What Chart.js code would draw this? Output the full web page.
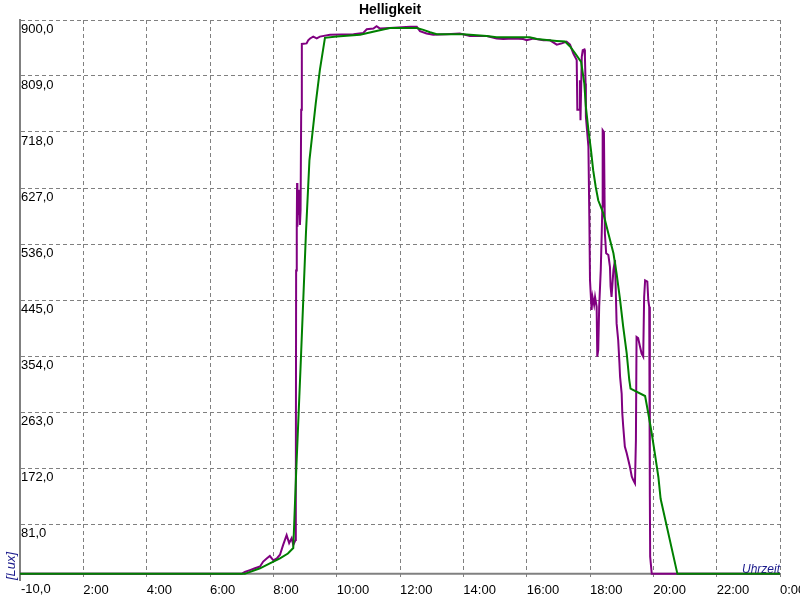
<!DOCTYPE html>
<html>
<head>
<meta charset="utf-8">
<script src="https://cdn.jsdelivr.net/npm/chart.js@4"></script>
<style>
  body { margin: 0; background: #fff; }
</style>
</head>
<body>
<canvas id="luxChart" width="800" height="600"></canvas>
<script>
// purple = measured lux, green = smoothed curve (x in hours)
const purpleHours = [0, 7.0, 7.1, 7.26, 7.42, 7.58, 7.68, 7.79, 7.89, 8.0, 8.11, 8.21, 8.31, 8.42, 8.5, 8.58, 8.63,
  8.7, 8.71, 8.72, 8.74, 8.75, 8.76, 8.78, 8.8, 8.82, 8.84, 8.86, 8.88, 8.9, 9.05, 9.1, 9.16, 9.26, 9.37, 9.47,
  9.79, 10.53, 10.84, 10.95, 11.16, 11.26, 11.37, 11.68, 12.32, 12.53, 12.63, 12.84, 13.05, 13.47, 13.89, 14.21,
  14.74, 15.05, 15.26, 15.58, 15.89, 16.0, 16.21, 16.53, 16.74, 16.95, 17.11, 17.26, 17.37, 17.47, 17.58, 17.6,
  17.66, 17.68, 17.7, 17.74, 17.77, 17.82, 17.84, 17.86, 17.87, 17.95, 17.98, 18.0, 18.05, 18.08, 18.13, 18.16,
  18.21, 18.23, 18.26, 18.29, 18.34, 18.37, 18.39, 18.4, 18.44, 18.47, 18.51, 18.58, 18.63, 18.65, 18.68, 18.71,
  18.74, 18.79, 18.82, 18.84, 18.89, 18.93, 18.95, 19.0, 19.02, 19.05, 19.1, 19.16, 19.21, 19.26, 19.32, 19.37,
  19.42, 19.45, 19.47, 19.52, 19.58, 19.63, 19.68, 19.71, 19.74, 19.81, 19.84, 19.87, 19.89, 19.9, 19.95, 24];
const purpleLux = [0, 0, 3, 6, 9, 12, 20, 25, 29, 22, 25, 31, 47, 63, 50, 58, 47,
  55, 120, 493, 564, 635, 564, 624, 583, 616, 567, 591, 754, 861, 862, 867, 870, 873, 870, 873,
  876, 877, 879, 885, 886, 890, 886, 887, 889, 889, 882, 878, 876, 877, 878, 874,
  874, 870, 869, 870, 869, 867, 870, 867, 867, 860, 862, 865, 860, 846, 835, 754,
  754, 802, 737, 840, 851, 852, 840, 797, 743, 694, 575, 477, 429, 450, 437, 450,
  434, 353, 364, 434, 494, 553, 597, 721, 718, 553, 521, 518, 499, 467, 450, 472,
  494, 510, 510, 407, 380, 342, 320, 293, 261, 239, 207, 196, 185, 174, 158, 152,
  147, 217, 385, 383, 369, 358, 353, 450, 477, 475, 445, 434, 125, 28, 0, 0];

const greenHours = [0, 7.1, 7.58, 7.89, 8.21, 8.46, 8.63, 8.72, 8.86, 9.03, 9.14, 9.34, 9.47, 9.63, 10.0, 10.74,
  11.15, 11.68, 12.53, 12.74, 12.95, 13.16, 14.0, 14.74, 15.05, 16.1, 16.32, 16.95, 17.21, 17.37, 17.53, 17.72,
  17.82, 17.87, 17.95, 18.03, 18.1, 18.18, 18.26, 18.42, 18.58, 18.74, 18.84, 18.95, 19.05, 19.16, 19.24, 19.28,
  19.74, 19.84, 19.95, 20.05, 20.16, 20.23, 20.76, 24];
const greenLux = [0, 0, 9, 17, 25, 33, 42, 164, 336, 554, 672, 765, 819, 871, 873, 876,
  881, 887, 887, 884, 880, 877, 877, 874, 872, 872, 869, 866, 865, 857, 846, 832,
  797, 759, 721, 689, 656, 629, 607, 586, 553, 521, 488, 445, 401, 358, 315, 301,
  289, 261, 228, 195, 157, 122, 0, 0];

const xTickHours = [0, 2, 4, 6, 8, 10, 12, 14, 16, 18, 20, 22, 24];
const xTickLabels = ["", "2:00", "4:00", "6:00", "8:00", "10:00", "12:00", "14:00", "16:00", "18:00", "20:00", "22:00", "0:00"];
const yTickValues = [-10, 81, 172, 263, 354, 445, 536, 627, 718, 809, 900];

const toPoints = (xs, ys) => xs.map((x, i) => ({ x: x, y: ys[i] }));

const tickFont = { family: "'Liberation Sans Narrow', 'Arial Narrow', 'Liberation Sans', sans-serif", size: 13 };

Chart.defaults.font.family = "'Liberation Sans', Arial, sans-serif";
Chart.defaults.font.size = 12;
Chart.defaults.color = "#000";

// gray line at 0 lux, and the "Uhrzeit" label above it
const zeroLine = {
  id: "zeroLine",
  beforeDatasetsDraw(chart) {
    const { ctx, chartArea, scales } = chart;
    const y = scales.y.getPixelForValue(0);
    ctx.save();
    ctx.strokeStyle = "#808080";
    ctx.lineWidth = 2;
    ctx.beginPath();
    ctx.moveTo(chartArea.left, y);
    ctx.lineTo(chartArea.right, y);
    ctx.stroke();
    ctx.font = "italic 12px 'Liberation Sans', Arial, sans-serif";
    ctx.fillStyle = "#1a1a8c";
    ctx.textAlign = "right";
    ctx.textBaseline = "bottom";
    ctx.fillText("Uhrzeit", chartArea.right, y + 2);
    ctx.restore();
  },
};

new Chart(document.getElementById("luxChart"), {
  type: "line",
  data: {
    datasets: [
      {
        label: "Mittel",
        data: toPoints(greenHours, greenLux),
        borderColor: "#008000",
        borderWidth: 2,
        pointRadius: 0,
        tension: 0,
      },
      {
        label: "Helligkeit",
        data: toPoints(purpleHours, purpleLux),
        borderColor: "#800080",
        borderWidth: 2,
        pointRadius: 0,
        tension: 0,
      },
    ],
  },
  options: {
    responsive: false,
    animation: false,
    layout: { padding: { left: 0, right: 20, top: 0, bottom: 0 } },
    plugins: {
      legend: { display: false },
      tooltip: { enabled: false },
      title: {
        display: true,
        text: "Helligkeit",
        font: { size: 14, weight: "bold" },
        color: "#000",
        padding: { top: 2, bottom: 1.2 },
      },
    },
    scales: {
      x: {
        type: "linear",
        min: 0,
        max: 24,
        afterBuildTicks: (s) => { s.ticks = xTickHours.map((v) => ({ value: v })); },
        afterFit: (s) => { s.height = 20; s.paddingLeft = 0; s.paddingRight = 0; },
        ticks: {
          align: "start",
          maxRotation: 0,
          autoSkip: false,
          padding: 3,
          font: tickFont,
          callback: (v, i) => xTickLabels[i],
        },
        grid: { color: "#808080", lineWidth: 1, drawTicks: false },
        border: { display: false, dash: [4, 3] },
      },
      y: {
        min: -10,
        max: 900,
        afterBuildTicks: (s) => { s.ticks = yTickValues.map((v) => ({ value: v })); },
        afterFit: (s) => { s.width = 20; s.paddingTop = 0; s.paddingBottom = 0; },
        ticks: {
          mirror: true,
          padding: 1,
          labelOffset: 9,
          autoSkip: false,
          font: tickFont,
          callback: (v) => v.toFixed(1).replace(".", ","),
        },
        grid: {
          color: (c) => (c.tick && c.tick.value === -10 ? "rgba(0,0,0,0)" : "#808080"),
          lineWidth: 1,
          drawTicks: false,
        },
        border: { display: true, color: "#808080", width: 2, dash: [4, 3] },
        title: {
          display: true,
          text: "[Lux]",
          align: "start",
          color: "#1a1a8c",
          font: { size: 13, style: "italic" },
          padding: { top: 4, bottom: 0 },
        },
      },
    },
  },
  plugins: [zeroLine],
});
</script>
</body>
</html>
